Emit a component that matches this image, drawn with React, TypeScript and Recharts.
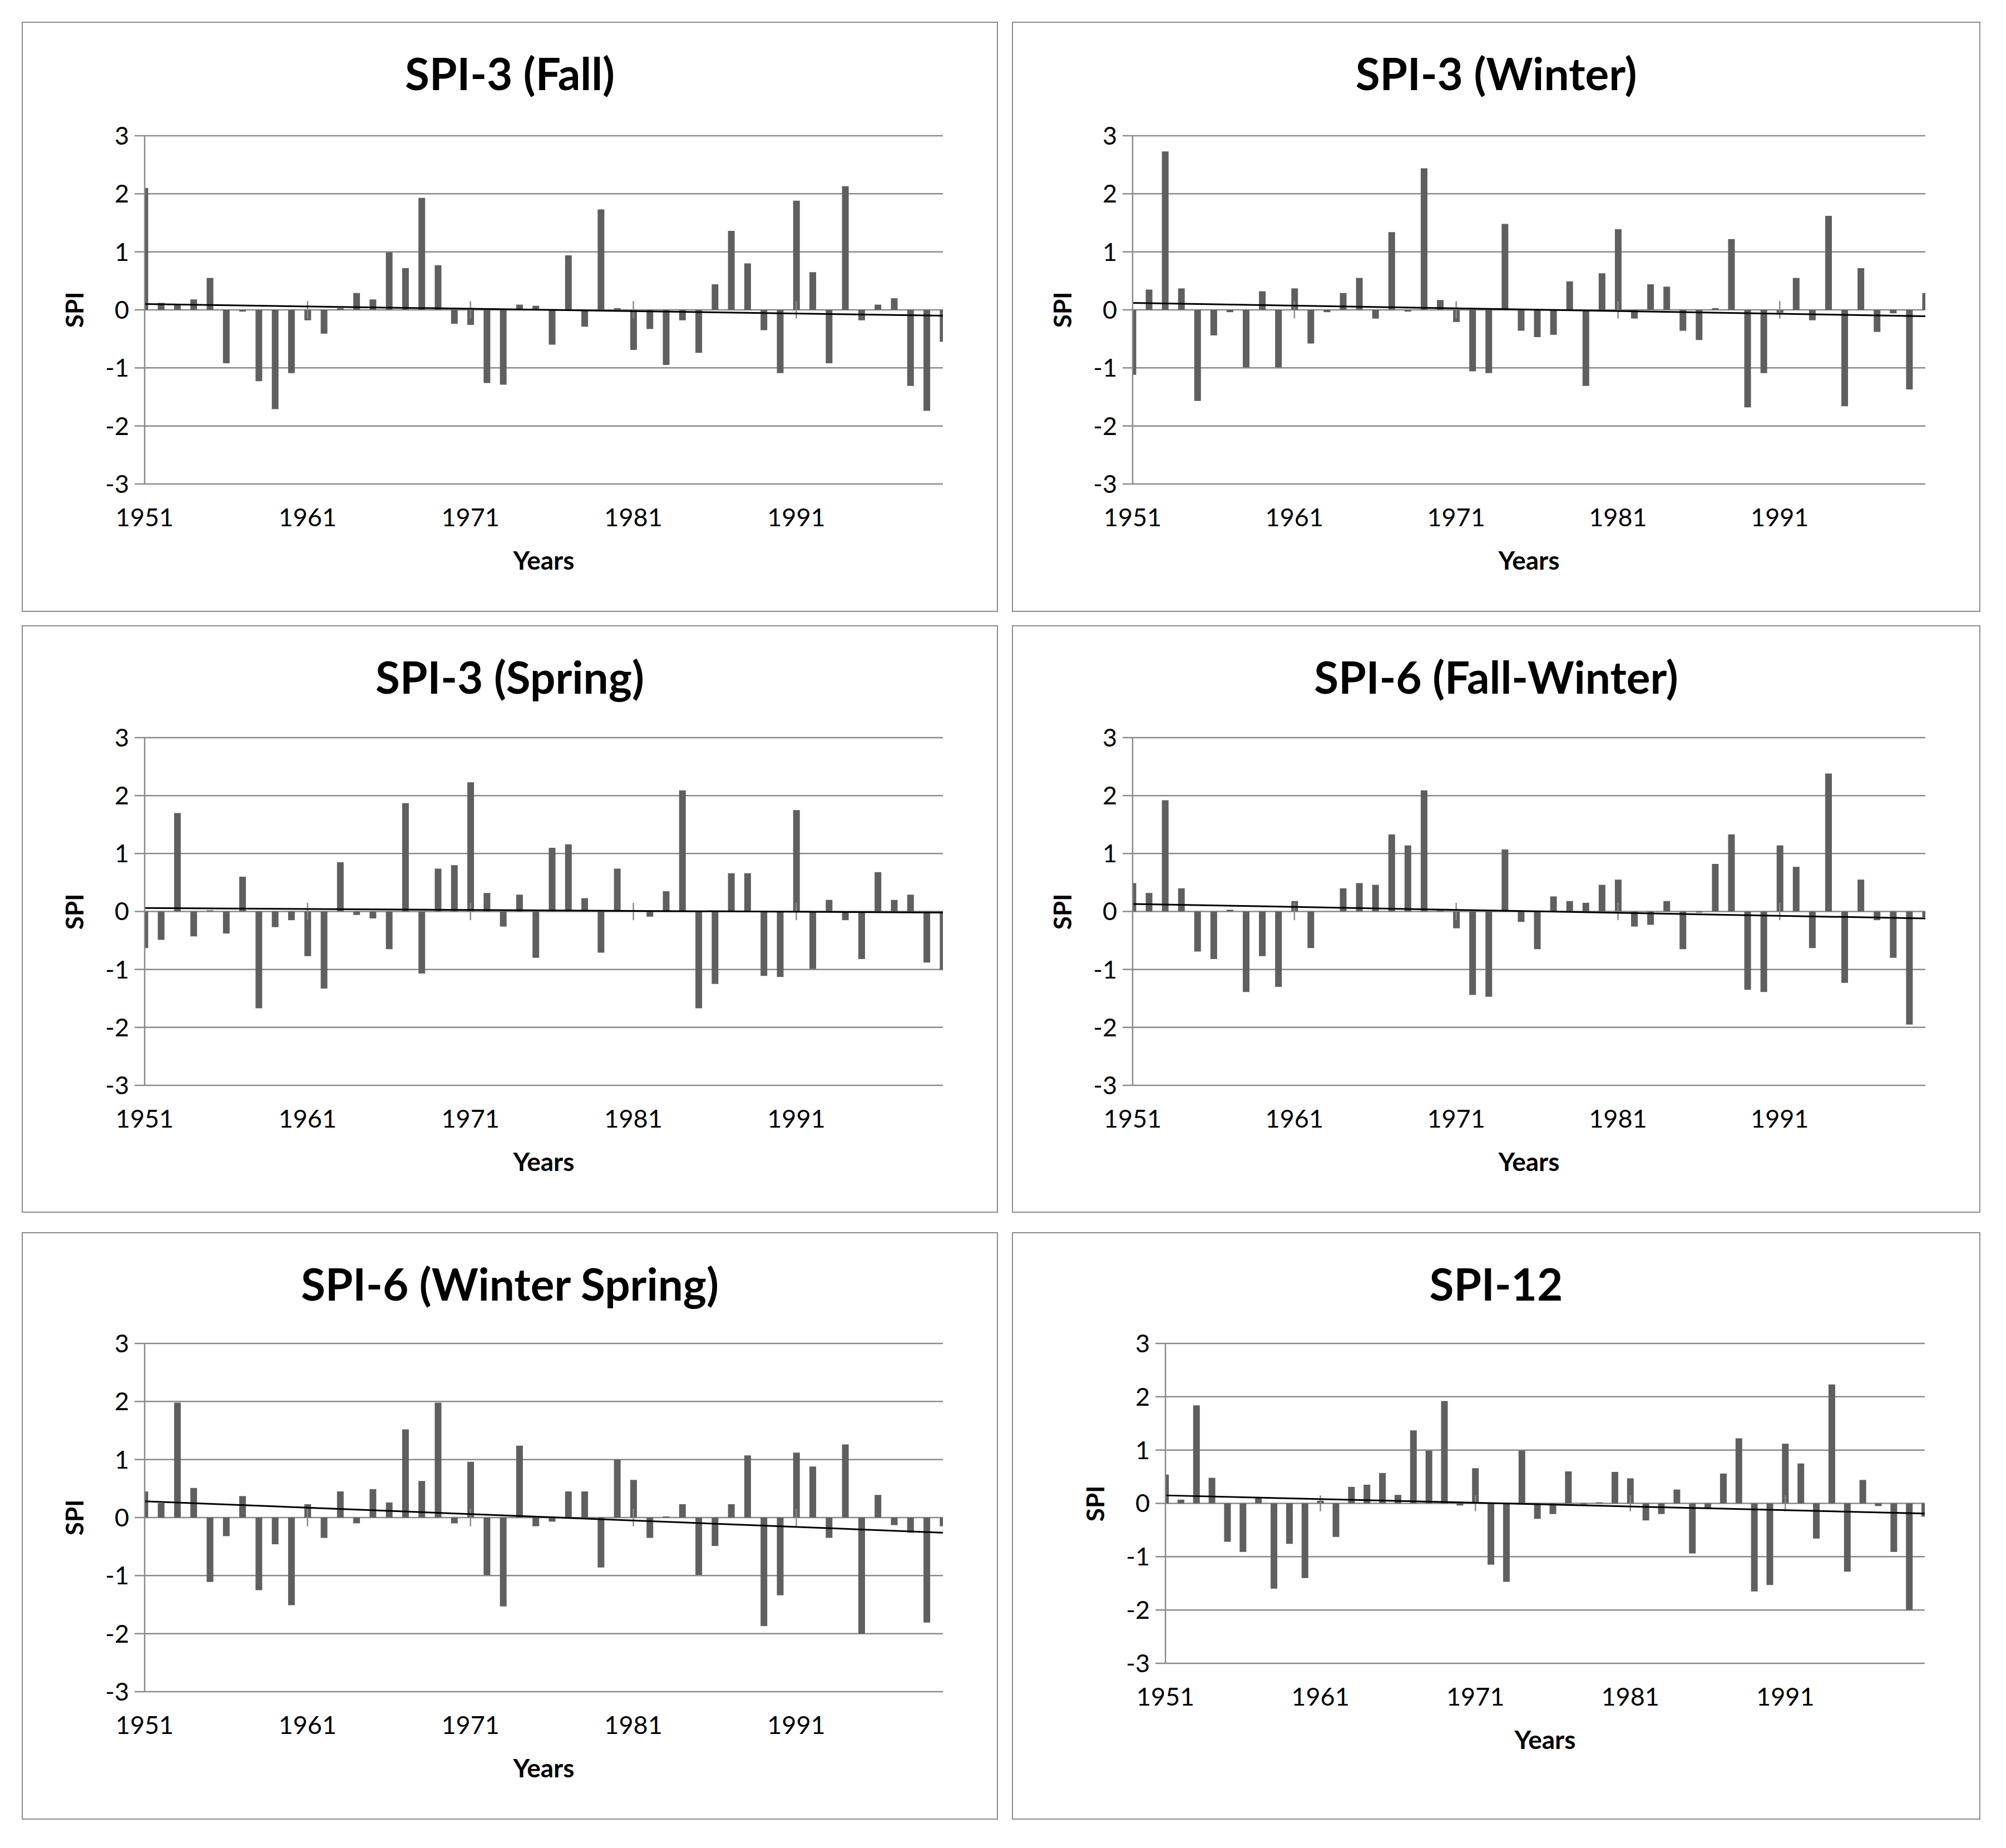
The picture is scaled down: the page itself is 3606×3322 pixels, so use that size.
import React from 'react';
import { ComposedChart, Bar, XAxis, YAxis, CartesianGrid, ReferenceLine } from 'recharts';

const years = [
  1951, 1952, 1953, 1954, 1955, 1956, 1957, 1958, 1959, 1960,
  1961, 1962, 1963, 1964, 1965, 1966, 1967, 1968, 1969, 1970,
  1971, 1972, 1973, 1974, 1975, 1976, 1977, 1978, 1979, 1980,
  1981, 1982, 1983, 1984, 1985, 1986, 1987, 1988, 1989, 1990,
  1991, 1992, 1993, 1994, 1995, 1996, 1997, 1998, 1999, 2000,
];

const fall = [
  2.1, 0.12, 0.08, 0.18, 0.55, -0.92, -0.03, -1.23, -1.71, -1.09,
  -0.18, -0.41, 0.03, 0.29, 0.18, 0.99, 0.72, 1.93, 0.77, -0.24,
  -0.26, -1.26, -1.29, 0.09, 0.07, -0.6, 0.94, -0.29, 1.73, 0.03,
  -0.69, -0.33, -0.95, -0.18, -0.74, 0.44, 1.36, 0.8, -0.35, -1.09,
  1.88, 0.65, -0.92, 2.13, -0.18, 0.09, 0.2, -1.31, -1.74, -0.55,
];

const winter = [
  -1.12, 0.35, 2.73, 0.37, -1.57, -0.44, -0.04, -0.99, 0.32, -0.99,
  0.37, -0.58, -0.04, 0.29, 0.55, -0.15, 1.34, -0.03, 2.44, 0.17,
  -0.21, -1.06, -1.09, 1.48, -0.36, -0.47, -0.43, 0.49, -1.31, 0.63,
  1.39, -0.15, 0.44, 0.4, -0.36, -0.52, 0.03, 1.22, -1.68, -1.09,
  -0.05, 0.55, -0.18, 1.62, -1.66, 0.72, -0.38, -0.06, -1.37, 0.29,
];

const spring = [
  -0.63, -0.49, 1.7, -0.43, 0.02, -0.38, 0.6, -1.67, -0.27, -0.15,
  -0.77, -1.33, 0.85, -0.06, -0.12, -0.65, 1.87, -1.07, 0.74, 0.8,
  2.23, 0.32, -0.26, 0.29, -0.8, 1.1, 1.16, 0.23, -0.71, 0.74,
  0.02, -0.09, 0.35, 2.09, -1.67, -1.25, 0.66, 0.66, -1.11, -1.13,
  1.75, -0.99, 0.2, -0.15, -0.82, 0.68, 0.2, 0.29, -0.88, -1.01,
];

const fallWinter = [
  0.49, 0.32, 1.92, 0.4, -0.69, -0.82, 0.03, -1.39, -0.77, -1.3,
  0.18, -0.63, 0.0, 0.4, 0.49, 0.46, 1.33, 1.14, 2.09, 0.02,
  -0.29, -1.44, -1.47, 1.07, -0.18, -0.65, 0.26, 0.18, 0.15, 0.46,
  0.55, -0.26, -0.23, 0.18, -0.65, -0.02, 0.82, 1.33, -1.35, -1.39,
  1.14, 0.77, -0.63, 2.38, -1.23, 0.55, -0.15, -0.8, -1.95, -0.1,
];

const winterSpring = [
  0.45, 0.25, 1.98, 0.51, -1.11, -0.32, 0.37, -1.25, -0.46, -1.51,
  0.23, -0.35, 0.45, -0.1, 0.49, 0.26, 1.52, 0.63, 1.98, -0.1,
  0.96, -0.99, -1.53, 1.24, -0.15, -0.07, 0.45, 0.45, -0.86, 1.0,
  0.65, -0.35, 0.02, 0.23, -0.99, -0.49, 0.23, 1.07, -1.87, -1.34,
  1.12, 0.88, -0.35, 1.26, -2.0, 0.39, -0.13, -0.26, -1.81, -0.15,
];

const spi12 = [
  0.54, 0.07, 1.84, 0.48, -0.72, -0.91, 0.12, -1.6, -0.76, -1.4,
  0.05, -0.63, 0.31, 0.35, 0.57, 0.16, 1.37, 0.99, 1.92, -0.04,
  0.66, -1.15, -1.47, 0.99, -0.29, -0.2, 0.6, -0.02, 0.02, 0.59,
  0.47, -0.32, -0.2, 0.26, -0.94, -0.09, 0.56, 1.22, -1.65, -1.53,
  1.12, 0.75, -0.66, 2.23, -1.28, 0.44, -0.05, -0.91, -2.0, -0.25,
];

// linear trend, start (1951) and end (2000) values
const trendFall = [0.1, -0.1];
const trendWinter = [0.12, -0.11];
const trendSpring = [0.06, -0.02];
const trendFallWinter = [0.13, -0.12];
const trendWinterSpring = [0.28, -0.26];
const trendSpi12 = [0.15, -0.19];

const yearTicks = [1951, 1961, 1971, 1981, 1991];
const spiTicks = [-3, -2, -1, 0, 1, 2, 3];

const FONT = 'Lato, "Open Sans", Arial, sans-serif';
const GRID = '#8a8a8a';
const BAR = '#5f5f5f';
const YW = 110;
const XH = 60;

type Box = { x: number; y: number; w: number; h: number };

function SpiPanel({ title, values, trend, panel, plot }: { title: string; values: number[]; trend: number[]; panel: Box; plot: Box }) {
  const data = years.map((year, i) => ({ year, spi: values[i] }));
  const margin = {
    top: plot.y - panel.y,
    left: plot.x - panel.x - YW,
    right: panel.x + panel.w - (plot.x + plot.w),
    bottom: panel.y + panel.h - (plot.y + plot.h) - XH,
  };
  const first = years[0];
  const last = years[years.length - 1];
  return (
    <>
      <div
        style={{
          position: 'absolute', left: panel.x, top: panel.y, width: panel.w, height: panel.h,
          border: '2px solid #8c8c8c', boxSizing: 'border-box', background: '#fff',
        }}
      />
      <div style={{ position: 'absolute', left: panel.x, top: panel.y }}>
        <ComposedChart width={panel.w} height={panel.h} data={data} margin={margin}>
          <CartesianGrid vertical={false} stroke={GRID} strokeWidth={2.5} />
          <XAxis
            dataKey="year"
            type="number"
            domain={[first, last]}
            allowDataOverflow
            ticks={yearTicks}
            interval={0}
            height={XH}
            axisLine={false}
            tickLine={false}
            tickSize={0}
            tickMargin={44}
            tick={{ fontSize: 45, fill: '#000', fontFamily: FONT }}
          />
          <YAxis
            domain={[-3, 3]}
            ticks={spiTicks}
            interval={0}
            width={YW}
            axisLine={{ stroke: GRID, strokeWidth: 2.5 }}
            tickLine={{ stroke: GRID, strokeWidth: 2.5 }}
            tickSize={18}
            tickMargin={10}
            tick={{ fontSize: 45, fill: '#000', fontFamily: FONT }}
          />
          <Bar dataKey="spi" fill={BAR} barSize={12} isAnimationActive={false} />
          {yearTicks.slice(1).map((t) => (
            <ReferenceLine key={t} segment={[{ x: t, y: -0.15 }, { x: t, y: 0.15 }]} stroke={GRID} strokeWidth={2.5} />
          ))}
          <ReferenceLine
            segment={[{ x: first, y: trend[0] }, { x: last, y: trend[1] }]}
            stroke="#000"
            strokeWidth={3}
          />
        </ComposedChart>
      </div>
      <div
        style={{
          position: 'absolute', left: panel.x, width: panel.w, top: panel.y + 92,
          transform: 'translateY(-50%)', textAlign: 'center', fontFamily: FONT,
          fontWeight: 700, fontSize: 80, lineHeight: 1, color: '#000',
        }}
      >
        {title}
      </div>
      <div
        style={{
          position: 'absolute', left: plot.x, width: plot.w, top: plot.y + plot.h + 137,
          transform: 'translateY(-50%)', textAlign: 'center', fontFamily: FONT,
          fontWeight: 700, fontSize: 46, lineHeight: 1, color: '#000',
        }}
      >
        Years
      </div>
      <div
        style={{
          position: 'absolute', left: plot.x - 127, top: plot.y + plot.h / 2,
          transform: 'translate(-50%, -50%) rotate(-90deg)', fontFamily: FONT,
          fontWeight: 700, fontSize: 44, lineHeight: 1, color: '#000', whiteSpace: 'nowrap',
        }}
      >
        SPI
      </div>
    </>
  );
}

export default function App() {
  return (
    <div style={{ position: 'absolute', left: 0, top: 0, width: 3606, height: 3322, background: '#fff' }}>
      <SpiPanel title="SPI-3 (Fall)" values={fall} trend={trendFall}
        panel={{ x: 39, y: 39, w: 1755, h: 1061 }} plot={{ x: 260, y: 244, w: 1435, h: 626 }} />
      <SpiPanel title="SPI-3 (Winter)" values={winter} trend={trendWinter}
        panel={{ x: 1819, y: 39, w: 1741, h: 1061 }} plot={{ x: 2036, y: 244, w: 1425, h: 626 }} />
      <SpiPanel title="SPI-3 (Spring)" values={spring} trend={trendSpring}
        panel={{ x: 39, y: 1124, w: 1755, h: 1056 }} plot={{ x: 260, y: 1326, w: 1435, h: 625 }} />
      <SpiPanel title="SPI-6 (Fall-Winter)" values={fallWinter} trend={trendFallWinter}
        panel={{ x: 1819, y: 1124, w: 1741, h: 1056 }} plot={{ x: 2036, y: 1326, w: 1425, h: 625 }} />
      <SpiPanel title="SPI-6 (Winter Spring)" values={winterSpring} trend={trendWinterSpring}
        panel={{ x: 39, y: 2215, w: 1755, h: 1056 }} plot={{ x: 260, y: 2415, w: 1435, h: 626 }} />
      <SpiPanel title="SPI-12" values={spi12} trend={trendSpi12}
        panel={{ x: 1819, y: 2215, w: 1741, h: 1056 }} plot={{ x: 2095, y: 2415, w: 1365, h: 575 }} />
    </div>
  );
}
